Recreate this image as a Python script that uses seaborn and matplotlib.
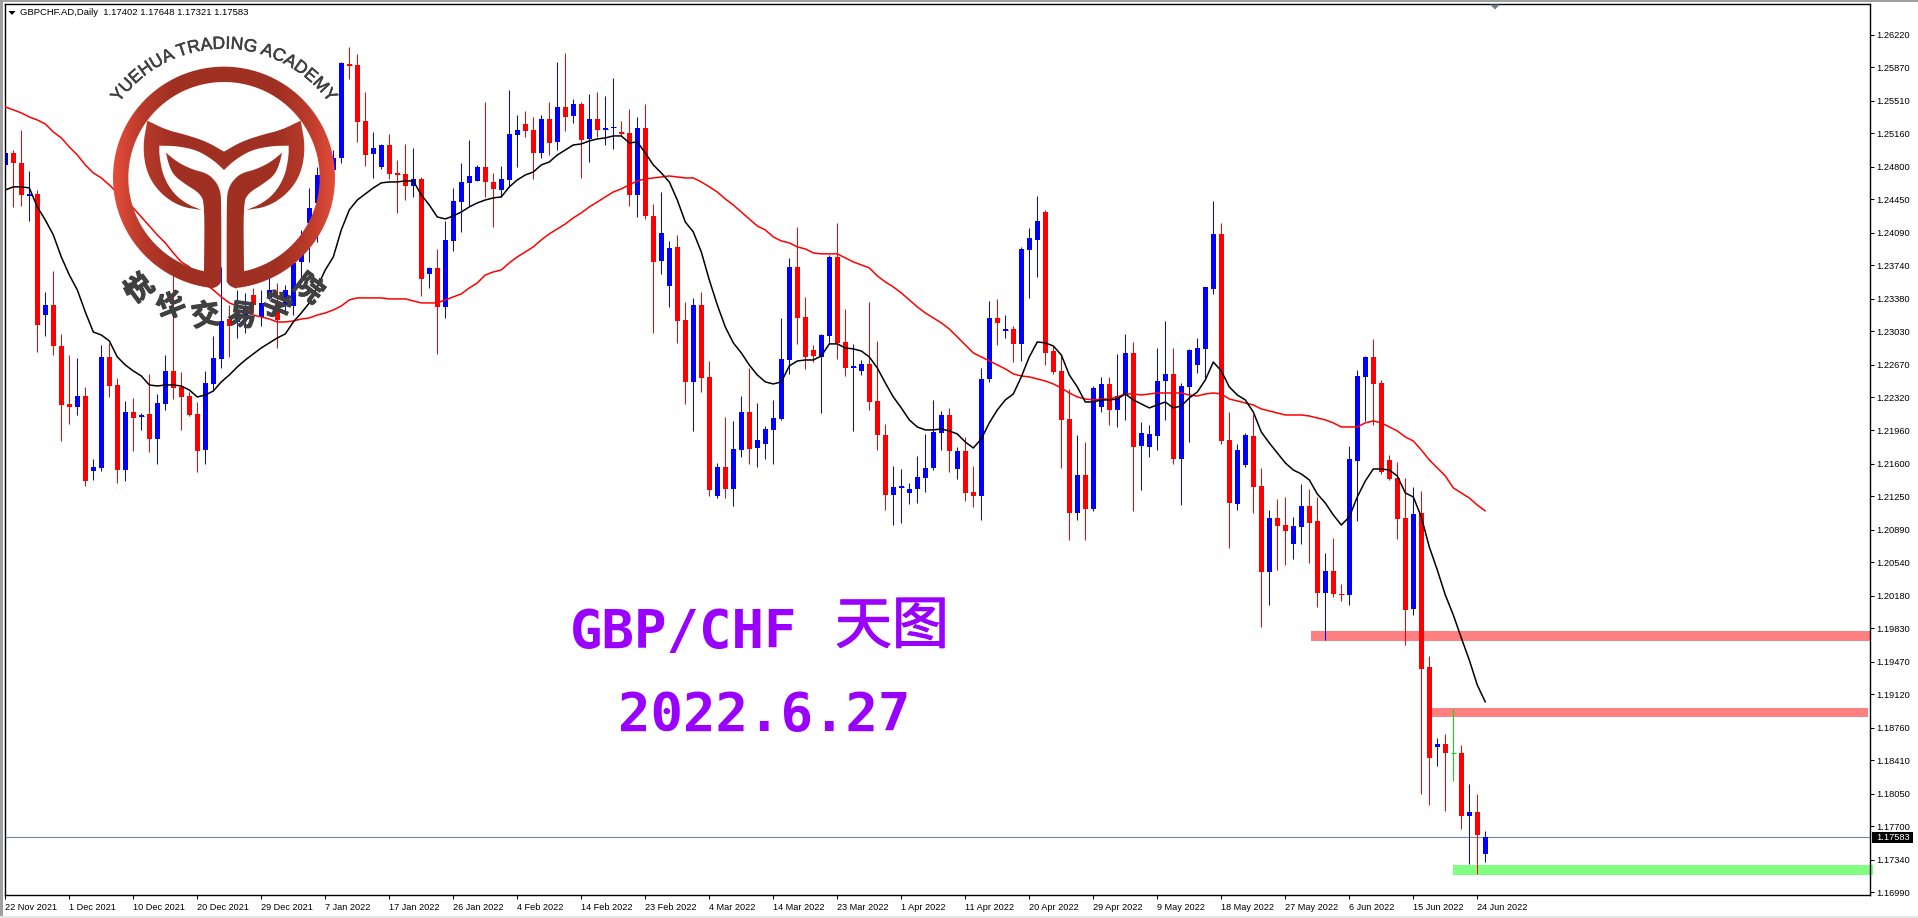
import numpy as np
import pandas as pd
import matplotlib
matplotlib.use("Agg")
import matplotlib.pyplot as plt
import seaborn as sns
from matplotlib.colors import LinearSegmentedColormap
from matplotlib.font_manager import FontProperties
from matplotlib.patches import Polygon, Rectangle
from matplotlib.textpath import text_to_path
import matplotlib.patheffects as pe

# Daily candles
opens = [
    1.24818,1.24947,1.24840,1.24484,1.24506,1.23203,1.23311,1.22870,1.22246,1.22214,
    1.22331,1.21524,1.21557,1.22752,1.22450,1.21535,1.22159,1.22106,1.22138,1.21869,
    1.22246,1.22601,1.22429,1.22331,1.22138,1.21751,1.22461,1.22730,1.23160,1.23128,
    1.23150,1.23419,1.23182,1.23387,1.23333,1.23311,1.23300,1.23774,1.24194,1.24409,
    1.24657,1.24764,1.24893,1.25905,1.25894,1.25291,1.24936,1.24797,1.25033,1.24732,
    1.24721,1.24592,1.24667,1.23645,1.23710,1.23290,1.24000,1.24419,1.24625,1.24646,
    1.24797,1.24635,1.24549,1.24657,1.25141,1.25259,1.25195,1.24947,1.25313,1.25065,
    1.25443,1.25345,1.25475,1.25098,1.25313,1.25195,1.25216,1.25173,1.25162,1.24495,
    1.25216,1.24269,1.23785,1.23515,1.23936,1.23150,1.22483,1.23311,1.22537,1.21255,
    1.21568,1.21331,1.21751,1.22159,1.21772,1.21815,1.21966,1.22084,1.22719,1.23721,
    1.23182,1.22827,1.22752,1.22977,1.23828,1.22913,1.22633,1.22601,1.22676,1.22278,
    1.21912,1.21266,1.21342,1.21288,1.21331,1.21449,1.21557,1.21934,1.22127,1.21546,
    1.21740,1.21298,1.21255,1.22515,1.23171,1.23031,1.23053,1.22892,1.23903,1.24011,
    1.24312,1.22816,1.22601,1.22084,1.21073,1.21481,1.21116,1.22214,1.22461,1.22181,
    1.22342,1.22795,1.21794,1.21783,1.21901,1.22493,1.22569,1.21654,1.22429,1.22665,
    1.22838,1.23483,1.24076,1.21858,1.21169,1.21589,1.21901,1.21363,1.20437,1.21019,
    1.20943,1.20739,1.20922,1.21148,1.20986,1.20212,1.20448,1.20201,1.20190,1.21632,
    1.22537,1.22752,1.22472,1.21643,1.21449,1.21019,1.20039,1.21073,1.19415,1.18554,
    1.18586,1.18484,1.18490,1.17811,1.17854,1.17402]
highs = [
    1.25065,1.24979,1.25195,1.24753,1.24549,1.23451,1.23677,1.22999,1.22773,1.22741,
    1.22429,1.21654,1.22881,1.22903,1.22526,1.22278,1.22310,1.22149,1.22569,1.22353,
    1.22773,1.23634,1.22590,1.22374,1.22267,1.22601,1.22977,1.23721,1.23311,1.23473,
    1.23441,1.23494,1.23473,1.23688,1.23548,1.23526,1.23774,1.24119,1.24571,1.24797,
    1.24979,1.24979,1.25926,1.26088,1.26013,1.25603,1.25173,1.25044,1.25152,1.24872,
    1.25044,1.25001,1.24689,1.23721,1.23914,1.24215,1.24571,1.24840,1.25087,1.24818,
    1.25496,1.24732,1.24807,1.25625,1.25356,1.25399,1.25334,1.25356,1.25496,1.25926,
    1.26024,1.25529,1.25496,1.25582,1.25603,1.25560,1.25755,1.25291,1.25421,1.25334,
    1.25475,1.24398,1.24527,1.24000,1.24065,1.23343,1.23387,1.23451,1.22708,1.21611,
    1.22106,1.22063,1.22331,1.22633,1.22257,1.22009,1.22289,1.23171,1.23818,1.24151,
    1.23398,1.22881,1.22999,1.23850,1.24194,1.23268,1.22892,1.22719,1.23343,1.22924,
    1.22031,1.21579,1.21546,1.21396,1.21686,1.21923,1.22289,1.22170,1.22203,1.21783,
    1.21891,1.21579,1.22633,1.23354,1.23376,1.23203,1.23085,1.23936,1.24140,1.24484,
    1.24334,1.22870,1.22773,1.22407,1.21912,1.21836,1.22439,1.22537,1.22537,1.22784,
    1.22999,1.22913,1.22052,1.22020,1.22849,1.23139,1.22849,1.22472,1.22838,1.22956,
    1.23505,1.24430,1.24194,1.22159,1.21815,1.21934,1.22138,1.21557,1.21105,1.21223,
    1.21245,1.21030,1.21385,1.21331,1.21245,1.20642,1.20804,1.20308,1.21794,1.22612,
    1.22762,1.22946,1.22504,1.21697,1.21622,1.21449,1.21352,1.21309,1.19533,1.18651,
    1.18694,1.18963,1.18576,1.18156,1.18048,1.17648]
lows = [
    1.24517,1.24366,1.24376,1.24215,1.22805,1.22977,1.22773,1.21847,1.22031,1.22127,
    1.21363,1.21428,1.21524,1.22321,1.21396,1.21417,1.21740,1.21966,1.21729,1.21600,
    1.22181,1.22299,1.21966,1.22116,1.21513,1.21600,1.22385,1.22633,1.22752,1.22956,
    1.23010,1.23225,1.23085,1.23365,1.22849,1.23203,1.23203,1.23548,1.23774,1.23989,
    1.24441,1.24710,1.24840,1.25744,1.25065,1.24807,1.24678,1.24775,1.24667,1.24302,
    1.24441,1.24474,1.23408,1.23494,1.22784,1.23171,1.23892,1.24097,1.24376,1.24646,
    1.24474,1.24151,1.24474,1.24582,1.24797,1.25119,1.24667,1.24893,1.24925,1.24979,
    1.25184,1.25270,1.24678,1.24850,1.25119,1.25033,1.24990,1.25130,1.24376,1.24258,
    1.24237,1.23010,1.23645,1.23290,1.22903,1.22246,1.21955,1.22374,1.21255,1.21234,
    1.21234,1.21148,1.21676,1.21600,1.21568,1.21654,1.21600,1.22074,1.22569,1.22892,
    1.22623,1.22697,1.22149,1.22903,1.22730,1.22547,1.21955,1.22558,1.22181,1.21751,
    1.21105,1.20943,1.20965,1.21169,1.21180,1.21298,1.21535,1.21751,1.21513,1.21439,
    1.21201,1.21137,1.20997,1.22483,1.22881,1.22956,1.22697,1.22708,1.23387,1.23613,
    1.22665,1.22569,1.21557,1.20782,1.20997,1.20782,1.21094,1.22159,1.22020,1.21998,
    1.22074,1.21094,1.21320,1.21676,1.21751,1.22074,1.21600,1.21158,1.21836,1.22580,
    1.22504,1.23430,1.21815,1.20696,1.21105,1.21568,1.21073,1.19846,1.20082,1.20459,
    1.20513,1.20578,1.20739,1.20535,1.20061,1.19706,1.20169,1.20125,1.20082,1.20986,
    1.22063,1.22020,1.21492,1.21428,1.20793,1.19652,1.19975,1.18048,1.17930,1.18349,
    1.17865,1.18188,1.17672,1.17295,1.17187,1.17321]
closes = [
    1.24947,1.24840,1.24495,1.24506,1.23096,1.23311,1.22870,1.22235,1.22214,1.22331,
    1.21417,1.21568,1.22752,1.22439,1.21535,1.22159,1.22095,1.22127,1.21869,1.22257,
    1.22601,1.22418,1.22321,1.22127,1.21740,1.22472,1.22741,1.23139,1.23085,1.23257,
    1.23279,1.23311,1.23333,1.23473,1.23150,1.23473,1.23764,1.24011,1.24355,1.24710,
    1.24818,1.24893,1.25916,1.25883,1.25280,1.24925,1.25001,1.25033,1.24721,1.24710,
    1.24592,1.24667,1.23591,1.23710,1.23290,1.24011,1.24430,1.24635,1.24699,1.24797,
    1.24635,1.24560,1.24667,1.25152,1.25195,1.25184,1.24947,1.25313,1.25055,1.25443,
    1.25334,1.25475,1.25087,1.25313,1.25195,1.25216,1.25227,1.25152,1.24495,1.25216,
    1.24269,1.23774,1.24087,1.23925,1.23139,1.22483,1.23311,1.22526,1.21320,1.21568,
    1.21331,1.21762,1.22159,1.21762,1.21858,1.21977,1.22095,1.22730,1.23721,1.23171,
    1.22752,1.22762,1.22988,1.23828,1.22903,1.22633,1.22655,1.22676,1.22267,1.21912,
    1.21266,1.21352,1.21363,1.21331,1.21460,1.21557,1.21944,1.22127,1.21740,1.21740,
    1.21288,1.21255,1.22515,1.23171,1.23118,1.23053,1.22892,1.23914,1.24032,1.24215,
    1.22795,1.22590,1.22074,1.21073,1.21481,1.21116,1.22418,1.22461,1.22181,1.22331,
    1.22795,1.21783,1.21934,1.21923,1.22493,1.22569,1.21654,1.22439,1.22827,1.22849,
    1.23505,1.24076,1.21847,1.21180,1.21751,1.21912,1.21352,1.20437,1.21019,1.20933,
    1.20879,1.20933,1.21148,1.20965,1.20212,1.20448,1.20201,1.20190,1.21654,1.22547,
    1.22752,1.22461,1.21513,1.21439,1.21008,1.20029,1.21062,1.19393,1.18436,1.18586,
    1.18490,1.18484,1.17811,1.17854,1.17607,1.17583]

# Moving averages
ma_fast = [
    1.24549,1.24582,1.24582,1.24571,1.24366,1.24226,1.24065,1.23828,1.23634,1.23473,
    1.23236,1.23020,1.22988,1.22924,1.22752,1.22665,1.22601,1.22547,1.22450,1.22439,
    1.22450,1.22450,1.22439,1.22396,1.22321,1.22342,1.22385,1.22483,1.22558,1.22644,
    1.22719,1.22784,1.22849,1.22903,1.22956,1.22999,1.23128,1.23225,1.23333,1.23505,
    1.23688,1.23828,1.24119,1.24334,1.24441,1.24506,1.24571,1.24625,1.24635,1.24635,
    1.24646,1.24646,1.24495,1.24387,1.24258,1.24237,1.24269,1.24312,1.24366,1.24409,
    1.24441,1.24463,1.24474,1.24582,1.24657,1.24710,1.24742,1.24818,1.24850,1.24925,
    1.24979,1.25033,1.25044,1.25076,1.25098,1.25109,1.25130,1.25130,1.25055,1.25065,
    1.24947,1.24818,1.24732,1.24635,1.24441,1.24204,1.24097,1.23882,1.23580,1.23311,
    1.23074,1.22903,1.22795,1.22665,1.22558,1.22483,1.22461,1.22483,1.22655,1.22708,
    1.22719,1.22719,1.22762,1.22892,1.22892,1.22849,1.22838,1.22816,1.22752,1.22633,
    1.22472,1.22321,1.22203,1.22074,1.21998,1.21966,1.21966,1.21977,1.21955,1.21923,
    1.21836,1.21772,1.21869,1.22042,1.22181,1.22289,1.22353,1.22537,1.22752,1.22913,
    1.22903,1.22870,1.22773,1.22558,1.22429,1.22267,1.22267,1.22289,1.22289,1.22299,
    1.22353,1.22289,1.22246,1.22203,1.22235,1.22267,1.22203,1.22224,1.22310,1.22374,
    1.22504,1.22697,1.22601,1.22429,1.22342,1.22289,1.22159,1.21944,1.21826,1.21719,
    1.21611,1.21535,1.21492,1.21428,1.21277,1.21180,1.21051,1.20943,1.21030,1.21245,
    1.21417,1.21546,1.21546,1.21535,1.21471,1.21288,1.21245,1.21030,1.20707,1.20459,
    1.20190,1.19975,1.19728,1.19490,1.19221,1.19038]
ma_slow = [
    1.25443,1.25410,1.25378,1.25334,1.25302,1.25259,1.25173,1.25109,1.25012,1.24925,
    1.24818,1.24732,1.24678,1.24603,1.24517,1.24441,1.24355,1.24258,1.24161,1.24065,
    1.23979,1.23871,1.23774,1.23721,1.23624,1.23537,1.23473,1.23398,1.23333,1.23300,
    1.23268,1.23203,1.23182,1.23160,1.23128,1.23128,1.23139,1.23160,1.23171,1.23203,
    1.23225,1.23257,1.23300,1.23365,1.23387,1.23387,1.23387,1.23387,1.23376,1.23376,
    1.23376,1.23354,1.23333,1.23333,1.23333,1.23365,1.23398,1.23430,1.23494,1.23548,
    1.23634,1.23666,1.23688,1.23764,1.23828,1.23882,1.23936,1.24011,1.24076,1.24130,
    1.24183,1.24248,1.24302,1.24366,1.24419,1.24474,1.24527,1.24560,1.24603,1.24646,
    1.24667,1.24678,1.24689,1.24699,1.24689,1.24678,1.24678,1.24635,1.24582,1.24527,
    1.24452,1.24387,1.24312,1.24237,1.24161,1.24119,1.24043,1.24000,1.23979,1.23936,
    1.23914,1.23871,1.23861,1.23861,1.23861,1.23818,1.23774,1.23742,1.23710,1.23624,
    1.23559,1.23505,1.23441,1.23365,1.23290,1.23225,1.23171,1.23118,1.23053,1.22967,
    1.22881,1.22795,1.22752,1.22708,1.22665,1.22623,1.22569,1.22547,1.22537,1.22515,
    1.22493,1.22461,1.22418,1.22364,1.22321,1.22299,1.22289,1.22299,1.22299,1.22321,
    1.22353,1.22353,1.22342,1.22353,1.22364,1.22364,1.22364,1.22364,1.22342,1.22331,
    1.22353,1.22364,1.22353,1.22299,1.22278,1.22257,1.22235,1.22192,1.22170,1.22149,
    1.22127,1.22127,1.22127,1.22116,1.22095,1.22074,1.22042,1.21998,1.21998,1.21998,
    1.22042,1.22063,1.22042,1.21998,1.21955,1.21891,1.21847,1.21751,1.21643,1.21557,
    1.21471,1.21342,1.21288,1.21234,1.21158,1.21094]

date_labels = ["22 Nov 2021", "1 Dec 2021", "10 Dec 2021", "20 Dec 2021", "29 Dec 2021", "7 Jan 2022",
               "17 Jan 2022", "26 Jan 2022", "4 Feb 2022", "14 Feb 2022", "23 Feb 2022", "4 Mar 2022",
               "14 Mar 2022", "23 Mar 2022", "1 Apr 2022", "11 Apr 2022", "20 Apr 2022", "29 Apr 2022",
               "9 May 2022", "18 May 2022", "27 May 2022", "6 Jun 2022", "15 Jun 2022", "24 Jun 2022"]
price_ticks = [1.26220, 1.25870, 1.25510, 1.25160, 1.24800, 1.24450, 1.24090, 1.23740, 1.23380, 1.23030,
               1.22670, 1.22320, 1.21960, 1.21600, 1.21250, 1.20890, 1.20540, 1.20180, 1.19830, 1.19470,
               1.19120, 1.18760, 1.18410, 1.18050, 1.17700, 1.17340, 1.16990]

# Rectangles: first bar, last bar, top price, bottom price
zone_red1 = (163.2, 233.1, 1.19802, 1.19695)
zone_red2 = (178.1, 232.8, 1.18974, 1.18877)
zone_green = (181.0, 233.4, 1.17284, 1.17176)

sns.set_style("white")
plt.rcParams["font.family"] = ["Liberation Sans", "DejaVu Sans"]

W, H = 1918, 918
fig = plt.figure(figsize=(W / 100, H / 100), dpi=100, facecolor="white")
left, right, top, bottom = 4.5, 1870.3, 4.0, 895.0
ax = fig.add_axes([left / W, 1 - bottom / H, (right - left) / W, (bottom - top) / H])
ax.set_xlim(-0.1, 233.125)
ax.set_ylim(1.16961, 1.26550)

o = np.array(opens)
h = np.array(highs)
l = np.array(lows)
c = np.array(closes)
bars = np.arange(len(o))
colors = np.where(c > o, "#0000FF", np.where(c < o, "#FF0000", "#00E000"))

# Zones under the candles
for x0, x1, y1, y0 in [zone_red1, zone_red2]:
    ax.add_patch(Rectangle((x0, y0), x1 - x0, y1 - y0, color="#FF8080", lw=0, zorder=1, clip_on=False))
x0, x1, y1, y0 = zone_green
ax.add_patch(Rectangle((x0, y0), x1 - x0, y1 - y0, color="#80FF80", lw=0, zorder=1, clip_on=False))

# Last price line
ax.axhline(c[-1], color="#778899", lw=0.8, zorder=1.5)

# Candles
ax.vlines(bars, l, h, colors=colors, lw=0.72, snap=True, zorder=2)
ax.bar(bars, np.abs(c - o), bottom=np.minimum(o, c), width=0.625, color=colors, linewidth=0, zorder=2.1)
# very small bodies would vanish, give them a 1 px line
small = np.abs(c - o) < 0.00025
ax.hlines((o[small] + c[small]) / 2, bars[small] - 0.31, bars[small] + 0.31, colors=colors[small], lw=0.72,
          snap=True, zorder=2.1)

# Moving averages
ma = pd.DataFrame({"bar": bars, "fast": ma_fast, "slow": ma_slow})
sns.lineplot(data=ma, x="bar", y="slow", color="#FF0000", lw=1.1, ax=ax, zorder=3)
sns.lineplot(data=ma, x="bar", y="fast", color="black", lw=1.1, ax=ax, zorder=3.1)
ax.set_xlabel("")
ax.set_ylabel("")

# Axes in the trading platform look
for name in ["top", "left", "right", "bottom"]:
    ax.spines[name].set_visible(True)
    ax.spines[name].set_color("black")
    ax.spines[name].set_linewidth(1.0)
ax.yaxis.tick_right()
ax.set_yticks(price_ticks)
ax.set_yticklabels([f"{p:.5f}" for p in price_ticks], fontsize=6.7, color="black")
ax.tick_params(axis="y", length=3, width=0.75, pad=1.5, right=True, color="black")
ax.set_xticks(np.arange(len(date_labels)) * 8)
ax.set_xticklabels(date_labels, fontsize=6.6, ha="left", color="black")
ax.tick_params(axis="x", length=3, width=0.75, pad=3, bottom=True, color="black")
ax.grid(False)

# Current price tag
ax.add_patch(Rectangle((1.00091, c[-1] - 0.00058), 0.0220, 0.00116, transform=ax.get_yaxis_transform(),
                       color="black", lw=0, clip_on=False, zorder=6))
ax.text(1.00302, c[-1], f"{c[-1]:.5f}", transform=ax.get_yaxis_transform(), color="white", fontsize=6.7,
        va="center", ha="left", clip_on=False, zorder=7)

# Overlay in picture pixels for the watermark and the notes
ov = fig.add_axes([0, 0, 1, 1])
ov.patch.set_alpha(0)
ov.axis("off")

# Window edges
ov.add_patch(Rectangle((0, 0), W, 2, color="#A0A0A0", lw=0))
ov.add_patch(Rectangle((0, 0), 3, H, color="#A0A0A0", lw=0))
ov.add_patch(Rectangle((0, 916), W, 2, color="#E6E6E6", lw=0))

# Legend line and small markers
ov.add_patch(Polygon([(8.5, 11), (15.5, 11), (12, 15)], color="black", lw=0))
ov.add_patch(Polygon([(1490, 4.5), (1500, 4.5), (1495, 9.5)], color="#708090", lw=0))
ov.text(20, 12.5, "GBPCHF.AD,Daily  1.17402 1.17648 1.17321 1.17583", fontsize=6.8, va="center", ha="left",
        color="black")


def smooth(pts, rounds=2):
    # corner cutting, points given twice stay sharp
    pts = np.asarray(pts, float)
    for _ in range(rounds):
        nxt = np.roll(pts, -1, axis=0)
        pts = np.column_stack([0.75 * pts + 0.25 * nxt, 0.25 * pts + 0.75 * nxt]).reshape(-1, 2)
    return pts


# Logo, shapes traced in a 3x grid
cx, cy = 672.0, 533.0
grad = LinearSegmentedColormap.from_list("logo", [(0, "#E54C3A"), (0.13, "#B83A2A"), (0.27, "#A03022"),
                                                  (0.73, "#A03022"), (0.87, "#B83A2A"), (1, "#E54C3A")])
t_out = np.radians(np.linspace(-173.6, 173.6, 240))
t_in = np.radians(np.linspace(168.5, -168.5, 240))
ring = np.vstack([np.c_[cx + 333 * np.sin(t_out), cy - 333 * np.cos(t_out)],
                  np.c_[cx + 287 * np.sin(t_in), cy - 287 * np.cos(t_in)]])
leaf_left = smooth([(498, 458), (498, 458), (530, 485), (575, 508), (622, 520), (648, 545), (660, 570),
                    (664, 600), (664, 845), (664, 845), (655, 858), (635, 866), (635, 866), (612, 815),
                    (612, 815), (614, 612), (600, 580), (555, 552), (520, 525), (505, 490)])
arm_left = smooth([(442, 362), (442, 362), (500, 390), (560, 405), (620, 425), (672, 455), (672, 455),
                   (672, 510), (672, 510), (640, 480), (590, 450), (530, 438), (478, 437), (478, 437),
                   (478, 470), (490, 530), (520, 580), (560, 612), (605, 630), (605, 630), (540, 620),
                   (480, 580), (440, 520), (428, 440)])
gradient = np.linspace(0, 1, 256).reshape(1, -1)
for shape in [ring, leaf_left, arm_left, leaf_left * [-1, 1] + [1344, 0], arm_left * [-1, 1] + [1344, 0]]:
    im = ov.imshow(gradient, cmap=grad, extent=(338 / 3, 1005 / 3, 866 / 3, 200 / 3), aspect="auto", zorder=8)
    im.set_clip_path(Polygon(shape / 3, closed=True, transform=ov.transData))

# Academy name on an arc
name_en = "YUEHUA TRADING ACADEMY"
size_en = 12.6
prop = FontProperties(family="Liberation Sans", size=size_en)
width = lambda s: text_to_path.get_text_width_height_descent(s, prop, False)[0]
total = width(name_en)
lx, ly, r_en = cx / 3, cy / 3, 129.0
for k, ch in enumerate(name_en):
    if ch == " ":
        continue
    mid = width(name_en[:k + 1]) - width(ch) / 2
    ang = (mid - total / 2) * (100 / 72) / r_en
    ov.text(lx + r_en * np.sin(ang), ly - r_en * np.cos(ang), ch, fontsize=size_en, color="#404040",
            rotation=-np.degrees(ang), rotation_mode="anchor", ha="center", va="baseline", zorder=9,
            family="Liberation Sans", path_effects=[pe.withStroke(linewidth=0.4, foreground="#404040")])

name_cn = "悦华交易学院"
angles_cn = [-37, -22, -7.5, 7.5, 22, 37]
for ch, a in zip(name_cn, angles_cn):
    ang = np.radians(a)
    ov.text(lx + 140 * np.sin(ang), ly + 140 * np.cos(ang), ch, fontsize=20.5, color="#404040", fontweight="bold",
            family="Noto Sans CJK SC", rotation=-a, rotation_mode="anchor", ha="center", va="center", zorder=9,
            path_effects=[pe.withStroke(linewidth=0.8, foreground="#404040")])

# Big purple notes
ov.text(570, 648, "GBP/CHF", family="DejaVu Sans Mono", fontweight="bold", fontsize=38.9, color="#9900FF",
        ha="left", va="baseline", zorder=9)
ov.text(892, 627, "天图", family="Noto Sans CJK SC", fontsize=41, fontweight="medium", color="#9900FF",
        ha="center", va="center", zorder=9, path_effects=[pe.withStroke(linewidth=0.8, foreground="#9900FF")])
ov.text(618, 731, "2022.6.27", family="DejaVu Sans Mono", fontweight="bold", fontsize=38.9, color="#9900FF",
        ha="left", va="baseline", zorder=9)

ov.set_xlim(0, W)
ov.set_ylim(H, 0)

fig.savefig("out.png", dpi=100, facecolor="white")
